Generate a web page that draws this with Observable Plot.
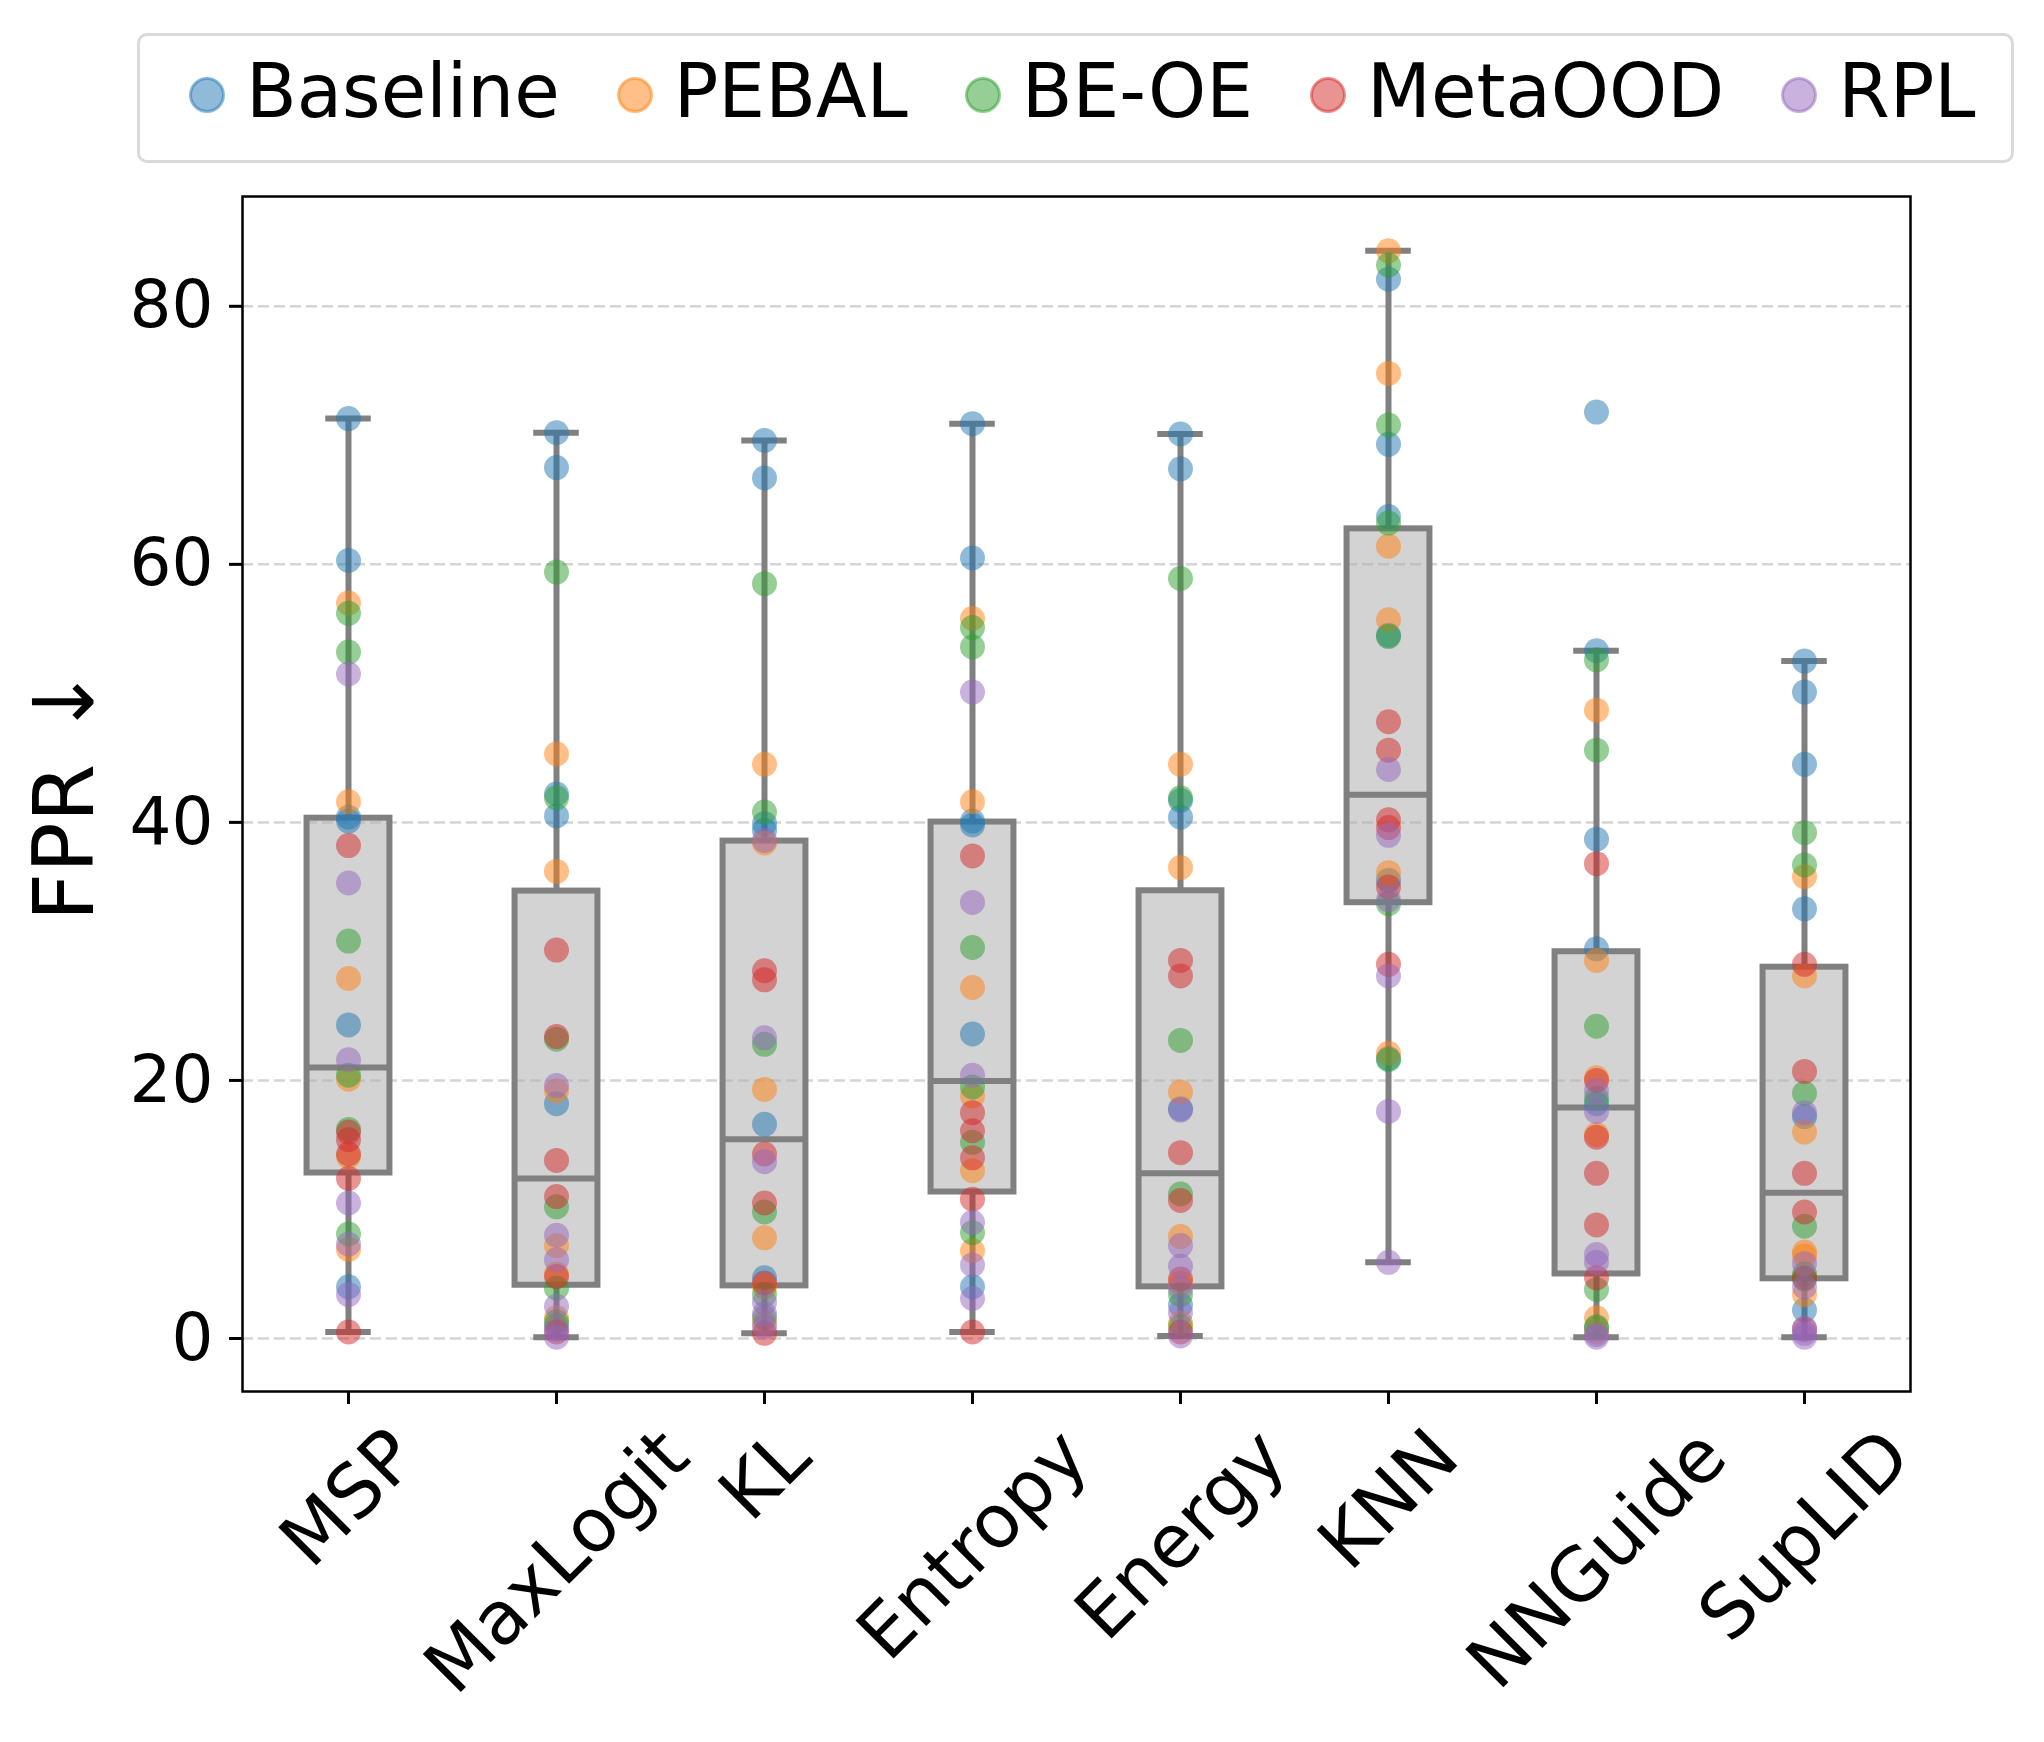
<!DOCTYPE html>
<html><head><meta charset="utf-8">
<script src="https://cdn.jsdelivr.net/npm/d3@7"></script>
<script src="https://cdn.jsdelivr.net/npm/@observablehq/plot@0.6"></script>
<style>
body{margin:0;background:#fff;font-family:"DejaVu Sans";}
#wrap{position:relative;width:2044px;height:1742px;overflow:hidden;}
#legend{position:absolute;left:137px;top:33px;width:1877px;height:130px;box-sizing:border-box;border:3px solid #dadada;border-radius:10px;display:flex;align-items:center;padding-left:48px;padding-bottom:14px;font-size:74px;color:#000;}
.item{display:flex;align-items:center;margin-right:56px;white-space:nowrap;}
.item svg{margin-right:20px;display:block;position:relative;top:4px;}
#chart{position:absolute;left:0;top:180px;}
#chart svg{display:block;}
</style></head><body>
<div id="wrap"><div id="legend"></div><div id="chart"></div></div>
<script>
// ---- data ----
const methods = ["MSP", "MaxLogit", "KL", "Entropy", "Energy", "KNN", "NNGuide", "SupLID"];
const series = ["Baseline", "PEBAL", "BE-OE", "MetaOOD", "RPL"];
const colors = ["#1f77b4", "#ff7f0e", "#2ca02c", "#d62728", "#9467bd"];
const yTicks = [0, 20, 40, 60, 80];
const yLabel = "FPR ↓";

// one row per method (same order as methods), FPR values per dataset
const baseline = [
  [71.3, 60.3, 40.4, 40.1, 24.3, 4.0],
  [70.2, 67.5, 42.2, 40.5, 18.2, 1.0],
  [69.6, 66.7, 39.9, 39.4, 16.6, 4.7],
  [70.9, 60.5, 40.1, 39.8, 23.6, 4.0],
  [70.1, 67.4, 41.7, 40.4, 17.8, 2.6],
  [82.1, 69.3, 63.7, 54.5, 35.5, 21.7],
  [71.8, 53.3, 38.7, 30.2, 18.2, 0.8],
  [52.5, 50.1, 44.5, 33.3, 17.2, 2.2]
];
const pebal = [
  [57.0, 41.6, 27.9, 20.1, 14.1, 6.9],
  [45.3, 36.2, 19.2, 7.2, 5.0, 1.6],
  [44.5, 38.4, 19.3, 7.8, 4.0, 1.2],
  [55.8, 41.6, 27.2, 18.8, 13.0, 6.8],
  [44.5, 36.5, 19.1, 7.9, 4.3, 1.2],
  [84.3, 74.8, 61.4, 55.7, 36.1, 22.1],
  [48.7, 29.3, 20.2, 15.8, 1.6, 0.5],
  [35.8, 28.1, 16.0, 6.7, 6.4, 3.4]
];
const beoe = [
  [56.2, 53.2, 30.8, 20.4, 16.2, 8.1],
  [59.4, 41.9, 23.2, 10.2, 3.9, 1.3],
  [58.5, 40.8, 22.8, 9.8, 3.4, 1.6],
  [55.1, 53.6, 30.3, 19.5, 15.2, 8.2],
  [58.9, 41.9, 23.1, 11.2, 3.4, 0.9],
  [83.2, 70.8, 63.2, 54.4, 33.7, 21.6],
  [52.6, 45.6, 24.2, 18.6, 3.8, 0.9],
  [39.2, 36.7, 19.0, 8.7, 5.0, 4.6]
];
const metaood = [
  [38.2, 16.0, 15.4, 14.3, 12.4, 0.5],
  [30.1, 23.4, 13.8, 11.0, 4.8, 0.5],
  [28.5, 27.8, 14.3, 10.5, 4.3, 0.4],
  [37.4, 17.5, 16.1, 14.0, 10.8, 0.5],
  [29.3, 28.1, 14.4, 10.7, 4.6, 0.5],
  [47.8, 45.6, 40.2, 39.6, 35.0, 29.0],
  [36.8, 20.0, 15.6, 12.8, 8.8, 4.7],
  [29.0, 20.7, 12.8, 9.8, 4.7, 0.7]
];
const rpl = [
  [51.5, 35.3, 21.6, 10.5, 7.3, 3.4],
  [19.6, 8.0, 6.1, 2.5, 0.7, 0.1],
  [38.6, 23.3, 13.7, 2.8, 1.9, 0.9],
  [50.1, 33.8, 20.4, 9.0, 5.7, 3.1],
  [17.7, 7.2, 5.6, 3.9, 2.0, 0.2],
  [44.1, 39.0, 34.0, 28.1, 17.6, 5.9],
  [19.2, 17.6, 6.5, 5.9, 0.3, 0.1],
  [17.5, 5.8, 4.0, 0.8, 0.4, 0.1]
];
const seriesData = [baseline, pebal, beoe, metaood, rpl];

// ---- long table ----
const points = [];
seriesData.forEach((rows, si) => rows.forEach((vals, mi) => vals.forEach(v =>
  points.push({method: methods[mi], series: series[si], value: v}))));

const stats = methods.map(m => {
  const v = points.filter(p => p.method === m).map(p => p.value).sort(d3.ascending);
  const q1 = d3.quantile(v, 0.25), med = d3.quantile(v, 0.5), q3 = d3.quantile(v, 0.75);
  const iqr = q3 - q1;
  const lo = d3.min(v.filter(x => x >= q1 - 1.5 * iqr));
  const hi = d3.max(v.filter(x => x <= q3 + 1.5 * iqr));
  return {method: m, q1, med, q3, lo, hi};
});

// ---- legend ----
const legend = document.getElementById("legend");
series.forEach((s, i) => {
  const it = document.createElement("div");
  it.className = "item";
  it.innerHTML = `<svg width="38" height="38"><circle cx="19" cy="19" r="16.5" fill="${colors[i]}" fill-opacity="0.5" stroke="${colors[i]}" stroke-opacity="0.5" stroke-width="3"/></svg><span>${s}</span>`;
  legend.appendChild(it);
});

// ---- plot ----
const W = 2044, H = 1562, mL = 242, mR = 134, mT = 16, mB = 351;
const vmin = d3.min(points, d => d.value), vmax = d3.max(points, d => d.value);
const pad = (vmax - vmin) * 0.05;
const band = (W - mL - mR) / methods.length;
const boxInset = band * (1 - 0.4) / 2;
const capInset = (band - 46) / 2;
const gray = "#808080";

const plot = Plot.plot({
  width: W, height: H,
  marginLeft: mL, marginRight: mR, marginTop: mT, marginBottom: mB,
  style: {fontFamily: "DejaVu Sans", fontSize: "66px", color: "black", background: "transparent", overflow: "visible"},
  x: {type: "band", domain: methods, padding: 0, axis: null, label: null},
  y: {domain: [vmin - pad, vmax + pad], axis: null, label: null},
  color: {domain: series, range: colors},
  marks: [
    Plot.barY(stats, {x: "method", y1: "q1", y2: "q3", fill: "#d3d3d3", insetLeft: boxInset, insetRight: boxInset}),
    Plot.gridY({ticks: yTicks, stroke: "#b0b0b0", strokeOpacity: 0.55, strokeWidth: 2.5, strokeDasharray: "11,5"}),
    Plot.barY(stats, {x: "method", y1: "q1", y2: "q3", fill: "none", stroke: gray, strokeWidth: 6, insetLeft: boxInset, insetRight: boxInset}),
    Plot.ruleX(stats, {x: "method", y1: "q3", y2: "hi", stroke: gray, strokeWidth: 6}),
    Plot.ruleX(stats, {x: "method", y1: "lo", y2: "q1", stroke: gray, strokeWidth: 6}),
    Plot.tickY(stats, {x: "method", y: "hi", stroke: gray, strokeWidth: 6, insetLeft: capInset, insetRight: capInset}),
    Plot.tickY(stats, {x: "method", y: "lo", stroke: gray, strokeWidth: 6, insetLeft: capInset, insetRight: capInset}),
    Plot.tickY(stats, {x: "method", y: "med", stroke: gray, strokeWidth: 6, insetLeft: boxInset, insetRight: boxInset}),
    Plot.dot(points, {x: "method", y: "value", fill: "series", r: 12.5, fillOpacity: 0.5}),
    Plot.frame({stroke: "black", strokeWidth: 2.5}),
    Plot.axisY({ticks: yTicks, tickSize: 13, tickPadding: 16, strokeWidth: 3, fontSize: 66, label: null}),
    Plot.axisX({tickSize: 13, strokeWidth: 3, tickFormat: () => "", label: null})
  ]
});
document.getElementById("chart").appendChild(plot);

// rotated, centred x tick labels (matplotlib style)
const svg = d3.select(plot);
const xs = plot.scale("x");
const bw = xs.bandwidth || 0;
const fs = 74;
methods.forEach(m => {
  const cx = xs.apply(m) + bw / 2;
  const t = svg.append("text").text(m)
    .attr("font-family", "DejaVu Sans").attr("font-size", fs)
    .attr("text-anchor", "middle").attr("dy", "0.346em").attr("fill", "black");
  const L = t.node().getComputedTextLength();
  const bh = (L + 1.164 * fs) * Math.SQRT1_2;
  const cy = (H - mB) + 13 + 8 + bh / 2;
  t.attr("transform", `translate(${cx},${cy}) rotate(-45)`);
});
// y label
svg.append("text").text(yLabel)
  .attr("font-family", "DejaVu Sans").attr("font-size", 84)
  .attr("text-anchor", "middle").attr("fill", "black")
  .attr("transform", `translate(93,${794 - 180}) rotate(-90)`);
</script>
</body></html>
